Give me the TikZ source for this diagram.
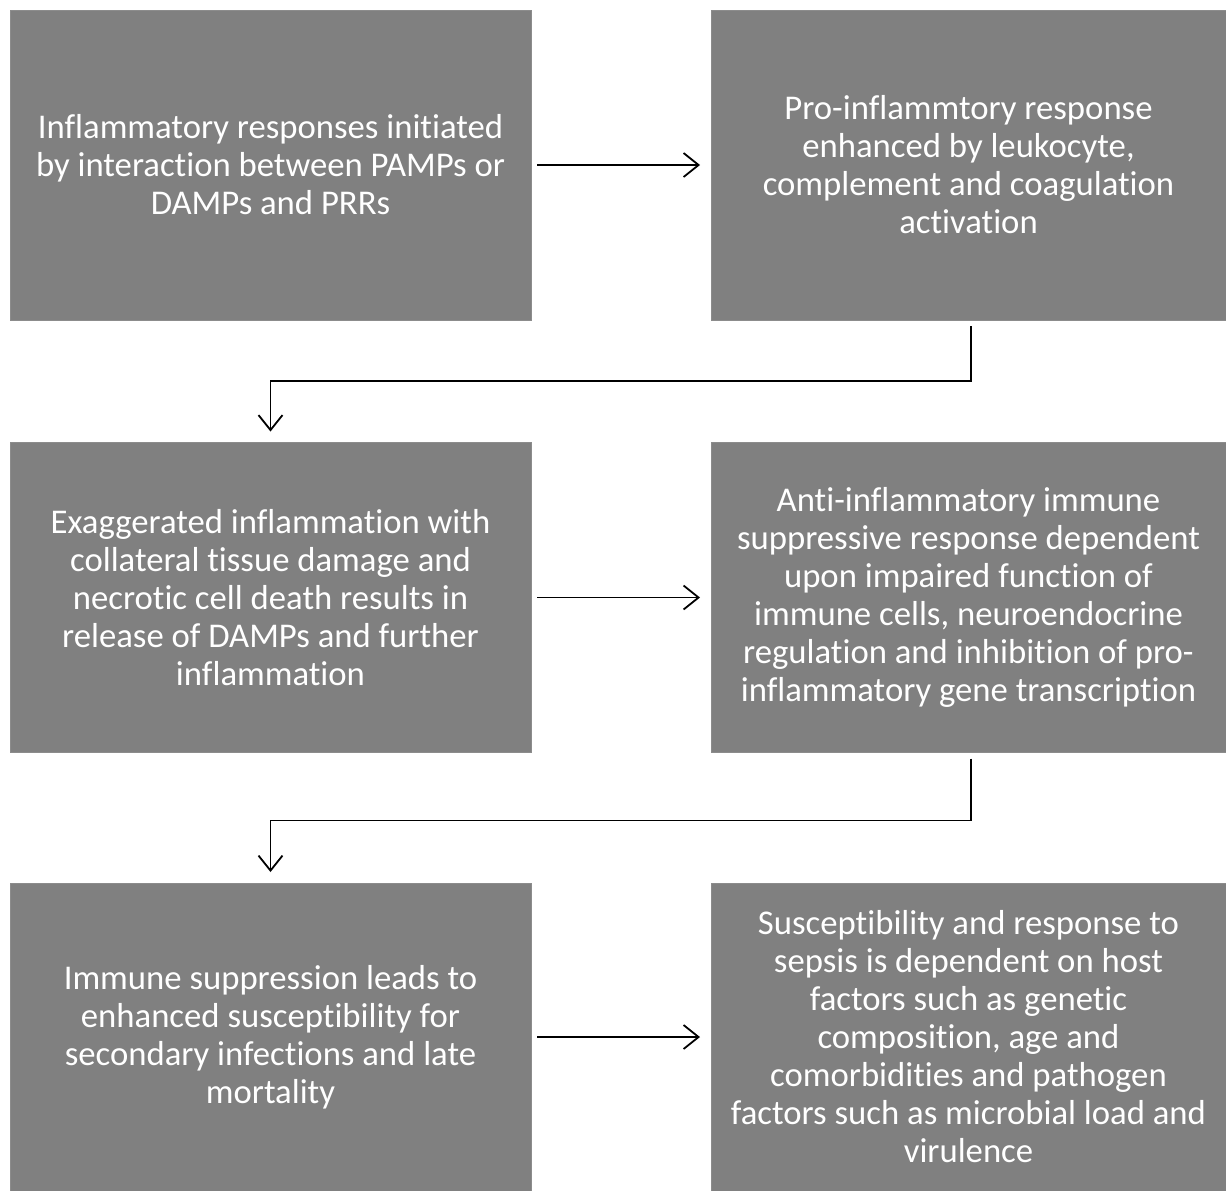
\documentclass[tikz,border=0pt]{standalone}
\usepackage{fontspec}
\setmainfont{Carlito}[Ligatures=NoCommon]
\usetikzlibrary{arrows.meta}

\tikzset{
  stage/.style={fill=black!50, draw=black!45, line width=0.6pt,
    minimum width=521pt, minimum height=310pt, inner sep=0pt, outer sep=0pt,
    text=white, align=center,
    font=\fontsize{34.7}{38}\selectfont},
  flow/.style={line width=1.8pt, -{Straight Barb[length=15pt,width=24pt,line width=1.8pt]}}
}

\begin{document}
\begin{tikzpicture}[x=1pt,y=-1pt]
\useasboundingbox (0,0) rectangle (1226,1191);
% left column
\node[stage] (inflam) at (270.5,165) {Inflammatory responses initiated\\by interaction between PAMPs or\\DAMPs and PRRs};
\node[stage] (exagg) at (270.5,597.5) {Exaggerated inflammation with\\collateral tissue damage and\\necrotic cell death results in\\release of DAMPs and further\\inflammation};
\node[stage, minimum height=308pt] (suppr) at (270.5,1037) {Immune suppression leads to\\enhanced susceptibility for\\secondary infections and late\\mortality};
% right column
\node[stage, minimum width=515pt] (proinf) at (968.5,165) {Pro-inflammtory response\\enhanced by leukocyte,\\complement and coagulation\\activation};
\node[stage, minimum width=515pt] (antinf) at (968.5,597.5) {Anti-inflammatory immune\\suppressive response dependent\\upon impaired function of\\immune cells, neuroendocrine\\regulation and inhibition of pro-\\inflammatory gene transcription};
\node[stage, minimum width=515pt, minimum height=308pt] (suscep) at (968.5,1037) {Susceptibility and response to\\sepsis is dependent on host\\factors such as genetic\\composition, age and\\comorbidities and pathogen\\factors such as microbial load and\\virulence};
% connectors
\draw[flow, shorten <=6pt, shorten >=11pt] (inflam.east) -- (proinf.west);
\draw[flow, shorten <=6pt, shorten >=11pt] (exagg.east) -- (antinf.west);
\draw[flow, shorten <=6pt, shorten >=11pt] (suppr.east) -- (suscep.west);
\draw[flow, shorten >=11pt] ([xshift=2.5pt,yshift=-6pt]proinf.south) -- ++(0,55) -| (exagg.north);
\draw[flow, shorten >=11pt] ([xshift=2.5pt,yshift=-6pt]antinf.south) -- ++(0,62) -| (suppr.north);
\end{tikzpicture}
\end{document}
